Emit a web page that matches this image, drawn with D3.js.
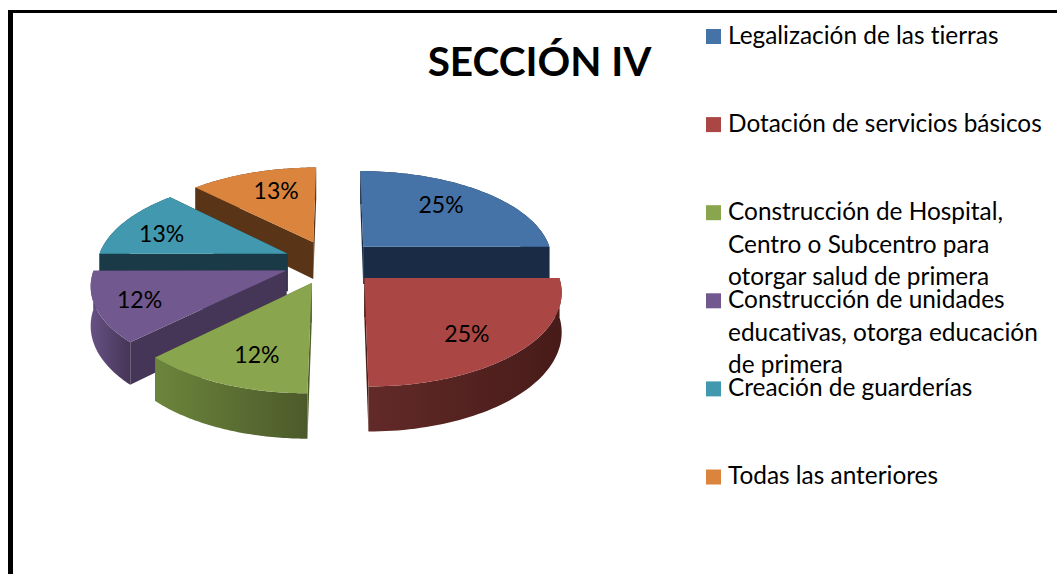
<!DOCTYPE html>
<html><head><meta charset="utf-8">
<script src="https://cdn.jsdelivr.net/npm/d3@7/dist/d3.min.js"></script>
<style>html,body{margin:0;padding:0;background:#fff}svg{display:block}text{font-family:Lato,"Liberation Sans",sans-serif;fill:#000;font-variant-ligatures:none}</style>
</head><body><svg id="c" width="1057" height="574"></svg>
<script>
const title = "SECCIÓN IV";
const categories = ["Legalización de las tierras","Dotación de servicios básicos","Construcción de Hospital, Centro o Subcentro para otorgar salud de primera","Construcción de unidades educativas, otorga educación de primera","Creación de guarderías","Todas las anteriores"];
const legendLines = [["Legalización de las tierras"],["Dotación de servicios básicos"],["Construcción de Hospital,","Centro o Subcentro para","otorgar salud de primera"],["Construcción de unidades","educativas, otorga educación","de primera"],["Creación de guarderías"],["Todas las anteriores"]];
const values = [25,25,12.49,12.49,12.51,12.51];
const colors = ["#4572A7","#AA4643","#89A54E","#71588F","#4198AF","#DB843D"];
const radialWall = ["#1A2C45","#4A1B19","#4F5F2B","#453556","#1A3A47","#593417"];
const outerWallStart = ["#1A2C45","#622A28","#6C853C","#675184","#1A3A47","#593417"];
const outerWallEnd = ["#1A2C45","#471B19","#4C5A2A","#453556","#1A3A47","#593417"];
const drawOrder = [0,5,4,3,2,1];
const labelNudge = [[2,-6],[10,12],[-2,13],[-31,7],[-23,0],[2,-6]];

const svg = d3.select("#c");
const defs = svg.append("defs");
// frame
svg.append("path").attr("d","M10.5,574V10").attr("fill","none").attr("stroke","#000").attr("stroke-width",5);
svg.append("path").attr("d","M8,11.5H1057").attr("fill","none").attr("stroke","#000").attr("stroke-width",3);

// perspective ground-plane projection
const vx=338.5, horizon=-412, A=674, d=1435, R=190.5, explode=47, X0=-8, D=38;
const proj=(X,Y,Z=0)=>{const s=d/(d-Y);return [vx+(X+X0)*s, horizon+A*s+Z*s];};

const pie=d3.pie().sort(null).value(v=>v);
const arcs=pie(values);
const labelFmt=d3.format(".0%");
const total=d3.sum(values);
const ptOn=(a,r,m,z)=>proj(Math.sin(m)*explode+Math.sin(a)*r, -Math.cos(m)*explode-Math.cos(a)*r, z);
const line=d3.line();
const sampled=(a0,a1)=>d3.range(0,61).map(i=>a0+(a1-a0)*i/60);

const g=svg.append("g");
drawOrder.forEach(i=>{
  const s=arcs[i], m=(s.startAngle+s.endAngle)/2;
  const top=sampled(s.startAngle,s.endAngle).map(a=>ptOn(a,R,m,0));
  const bot=sampled(s.startAngle,s.endAngle).map(a=>ptOn(a,R,m,D));
  const c0=ptOn(0,0,m,0), c1=ptOn(0,0,m,D);
  const grp=g.append("g").attr("class","slice");
  // radial walls
  [top[0],top[60]].forEach((e,k)=>{
    const b=k?bot[60]:bot[0];
    grp.append("path").attr("d",line([c0,e,b,c1])+"Z").attr("fill",radialWall[i]);
  });
  // outer wall with gradient
  const xs=top.concat(bot).map(p=>p[0]);
  const gid="w"+i;
  const gr=defs.append("linearGradient").attr("id",gid).attr("gradientUnits","userSpaceOnUse")
    .attr("x1",d3.min(xs)).attr("x2",d3.max(xs)).attr("y1",0).attr("y2",0);
  gr.append("stop").attr("offset",0).attr("stop-color",outerWallStart[i]);
  gr.append("stop").attr("offset",1).attr("stop-color",outerWallEnd[i]);
  grp.append("path").attr("d",line(top.concat(bot.slice().reverse()))+"Z").attr("fill",`url(#${gid})`);
  // top face
  grp.append("path").attr("d",line([c0].concat(top))+"Z").attr("fill",colors[i]);
});
// value labels
arcs.forEach((s,i)=>{
  const m=(s.startAngle+s.endAngle)/2;
  const p=ptOn(m,R*0.62,m,0);
  svg.append("text").attr("x",p[0]+labelNudge[i][0]).attr("y",p[1]+labelNudge[i][1]).attr("dy","0.35em").attr("text-anchor","middle")
    .attr("font-size",23).text(labelFmt(s.value/total));
});
// title
svg.append("text").attr("x",539.5).attr("y",76).attr("text-anchor","middle").attr("font-size",40.5).attr("font-weight",700).text(title);
// legend
const ly=d3.scalePoint().domain(d3.range(categories.length)).range([36.5,477]);
categories.forEach((c,i)=>{
  const y=ly(i);
  svg.append("rect").attr("x",706).attr("y",y-7.5).attr("width",15).attr("height",15).attr("fill",colors[i]);
  const t=svg.append("text").attr("x",728).attr("y",y).attr("font-size",24.4);
  legendLines[i].forEach((l,k)=>t.append("tspan").attr("x",728).attr("y",y+32.5*k).attr("dy","0.3em").text(l));
});
</script></body></html>
